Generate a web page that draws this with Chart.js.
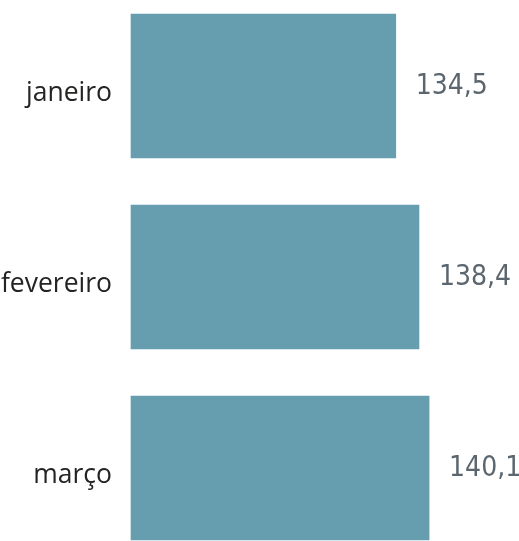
<!DOCTYPE html>
<html>
<head>
<meta charset="utf-8">
<script src="https://cdn.jsdelivr.net/npm/chart.js@4"></script>
<style>
  html, body { margin: 0; padding: 0; background: #ffffff; }
  #wrap { width: 519px; height: 541px; position: relative; }
</style>
</head>
<body>
<div id="wrap"><canvas id="c" width="519" height="541"></canvas></div>
<script>
// Monthly totals
const months = ['janeiro', 'fevereiro', 'março'];
const totals = [134.5, 138.4, 140.1];

const axisMin = 90;
const axisMax = 150;

const barColor = '#669EAF';
const fmt = v => v.toLocaleString('pt-BR', { minimumFractionDigits: 1, maximumFractionDigits: 1 });

// Writes each bar's value just past its end
const valueLabels = {
  id: 'valueLabels',
  afterDatasetsDraw(chart) {
    const ctx = chart.ctx;
    const meta = chart.getDatasetMeta(0);
    ctx.save();
    ctx.font = '28px "DejaVu Sans Condensed", "DejaVu Sans", sans-serif';
    ctx.fillStyle = '#5B666E';
    ctx.textAlign = 'left';
    ctx.textBaseline = 'middle';
    meta.data.forEach((bar, i) => {
      ctx.fillText(fmt(totals[i]), bar.x + 20, bar.y + 1);
    });
    ctx.restore();
  }
};

new Chart(document.getElementById('c'), {
  type: 'bar',
  data: {
    labels: months,
    datasets: [{
      data: totals,
      base: axisMin,
      backgroundColor: barColor,
      borderWidth: 0,
      barThickness: 144,
      clip: false
    }]
  },
  options: {
    indexAxis: 'y',
    responsive: false,
    animation: false,
    layout: { padding: { left: 0, right: 31, top: 86, bottom: 73 } },
    plugins: { legend: { display: false }, tooltip: { enabled: false } },
    scales: {
      x: {
        display: false,
        min: axisMin,
        max: axisMax
      },
      y: {
        offset: false,
        border: { display: false },
        grid: { display: false, drawTicks: false },
        ticks: {
          padding: 19,
          labelOffset: 7,
          color: '#252423',
          font: { family: '"Open Sans", sans-serif', size: 26.5 }
        },
        afterFit(scale) { scale.width = 131; }
      }
    }
  },
  plugins: [valueLabels]
});
</script>
</body>
</html>
